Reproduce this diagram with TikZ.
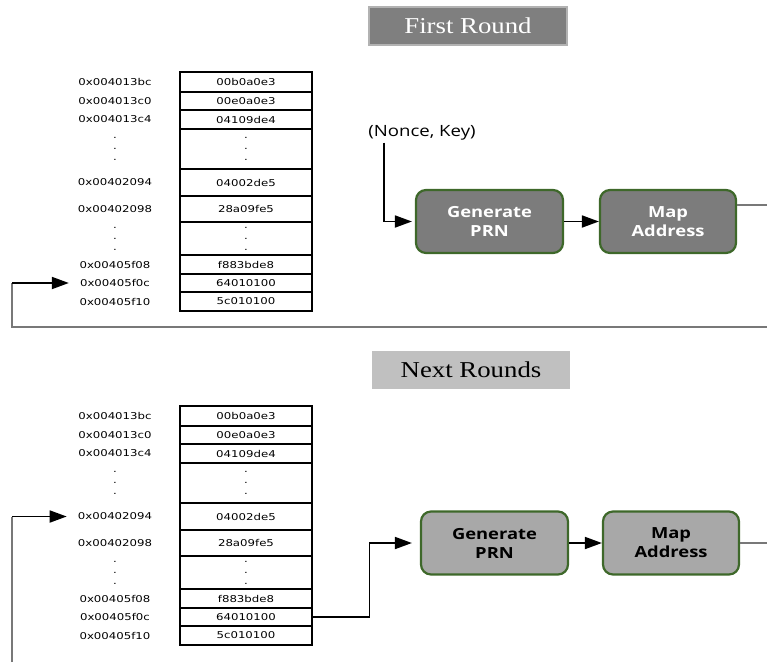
\documentclass[tikz,border=0pt]{standalone}
\usepackage{fontspec}
\setmainfont{Liberation Serif}[FakeStretch=1.18]
\newfontfamily\tabfont{DejaVu Sans}[FakeStretch=1.25]
\newfontfamily\boxfont{Open Sans}[FakeStretch=1.2]
\usepackage{tikz}
\usetikzlibrary{arrows.meta}
\definecolor{darkbox}{RGB}{124, 124, 124}
\definecolor{lightbox}{RGB}{168, 168, 168}
\definecolor{edge}{RGB}{62, 104, 42}
\definecolor{titledark}{RGB}{127, 127, 127}
\definecolor{titleedge}{RGB}{178, 178, 178}
\definecolor{titlelight}{RGB}{192, 192, 192}
\definecolor{wire}{RGB}{120, 120, 120}
% row / centre / height / address / word
\newcommand*{\memrows}{1/82/20/0x004013bc/00b0a0e3,
  2/101/18/0x004013c0/00e0a0e3,
  3/119.5/19/0x004013c4/04109de4,
  4/149/40/{.\\.\\.}/{.\\.\\.},
  5/182.5/27/0x00402094/04002de5,
  6/209/26/0x00402098/28a09fe5,
  7/238.5/33/{.\\.\\.}/{.\\.\\.},
  8/264.5/19/0x00405f08/f883bde8,
  9/283/18/0x00405f0c/64010100,
  10/301.5/19/0x00405f10/5c010100}

\begin{document}
\begin{tikzpicture}[
   x=1pt, y=-1pt,
   cell/.style={rectangle, draw=black, line width=1.1, minimum width=132,
                inner sep=0, align=center, font=\tabfont\fontsize{9.4}{11}\selectfont},
   addr/.style={rectangle, inner sep=0, align=center,
                font=\tabfont\fontsize{9.4}{11}\selectfont},
   frame/.style={draw=black, line width=1.8},
   title/.style={rectangle, minimum width=198, minimum height=38,
                 font=\fontsize{22.7}{26}\selectfont},
   darktitle/.style={title, fill=titledark, draw=titleedge, line width=1.5, text=white},
   lighttitle/.style={title, fill=titlelight, text=black},
   darkstep/.style={rectangle, rounded corners=10, draw=edge, fill=darkbox, line width=2.2,
                    text=white, minimum height=63, align=center,
                    font=\boxfont\bfseries\fontsize{15.3}{19}\selectfont},
   lightstep/.style={darkstep, fill=lightbox, text=black},
   flow/.style={>={Triangle[length=17pt, width=12pt]}, ->, line width=1.8},
   wire/.style={draw=wire, line width=1.2}
  ]

  \useasboundingbox (0, 0) rectangle (767, 662);

  % Memory tables
  \foreach \p/\s in {T/0, B/334} {
    \begin{scope}[shift={(0, \s)}]
      \foreach \i/\y/\hh/\adr/\val in \memrows {
        \node (\p a\i) at (115, \y) [addr] { \adr };
        \node (\p v\i) at (246, \y) [cell, minimum height=\hh] { \val };
      }
      \draw[frame] (\p v1.north west) rectangle (\p v10.south east);
    \end{scope}
  }

  % First round
  \node (first) at (468, 26) [darktitle] { First Round };

  \node (nk) at (422, 133) [font=\boxfont\fontsize{15.5}{18}\selectfont, inner sep=2] { (Nonce, Key) };

  \node (gen1) at (489.5, 221.5) [darkstep, minimum width=147] { Generate\\PRN };
  \node (map1) at (668, 221.5) [darkstep, minimum width=136] { Map\\Address };

  \coordinate (out1) at (767, 205);
  \coordinate (back1) at (767, 327);
  \coordinate (loop1) at (12, 327);

  \draw[flow, shorten >=3] ([xshift=-38]nk.south) |- (gen1.west);
  \draw[flow] (gen1) -- (map1);
  \draw[wire] ([yshift=16.5]map1.east) -- (out1);
  \draw[wire] (back1) -- (loop1) -- (loop1 |- Ta9.west);
  \draw[flow, shorten >=11] (loop1 |- Ta9.west) -- (Ta9.west);

  % Next rounds
  \node (next) at (471, 369.5) [lighttitle] { Next Rounds };

  \node (gen2) at (494.5, 543) [lightstep, minimum width=147] { Generate\\PRN };
  \node (map2) at (671, 543) [lightstep, minimum width=136] { Map\\Address };

  \coordinate (out2) at (767, 543);
  \coordinate (loop2) at (12, 662);

  \draw[flow, shorten >=8] (Bv9.east) -- ++(57, 0) |- (gen2.west);
  \draw[flow] (gen2) -- (map2);
  \draw[wire] (map2.east) -- (out2);
  \draw[wire] (loop2) -- (loop2 |- Ba5.west);
  \draw[flow, shorten >=11] (loop2 |- Ba5.west) -- (Ba5.west);

\end{tikzpicture}
\end{document}
